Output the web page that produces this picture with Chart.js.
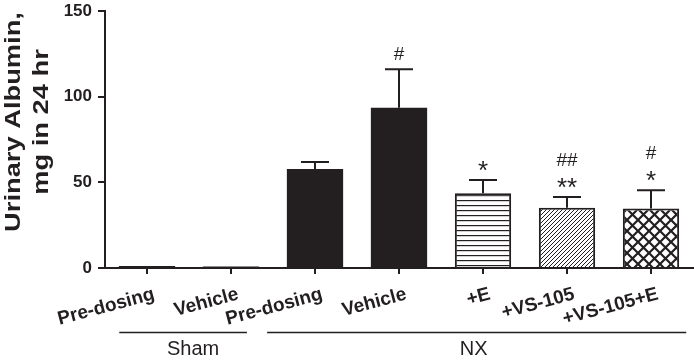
<!DOCTYPE html>
<html>
<head>
<meta charset="utf-8">
<script src="https://cdn.jsdelivr.net/npm/chart.js@4"></script>
<style>
  html, body { margin: 0; padding: 0; background: #fff; }
</style>
</head>
<body>
<canvas id="chart" width="694" height="362"></canvas>
<script>
// data
const categories = ['Pre-dosing', 'Vehicle', 'Pre-dosing', 'Vehicle', '+E', '+VS-105', '+VS-105+E'];
const albumin = [1.2, 0.9, 57.8, 93.6, 43.6, 35.2, 34.8];
const albuminSem = [0.3, 0.2, 4.0, 22.4, 7.8, 6.2, 10.6];
const marks = [[], [], [], ['#'], ['*'], ['##', '**'], ['#', '*']];
const groups = ['Sham', 'NX'];
const yTicks = [0, 50, 100, 150];
const yTitle = ['Urinary Albumin,', 'mg in 24 hr'];

const ink = '#231f20';
const font = 'Arial, "Liberation Sans", Helvetica, sans-serif';

// fill patterns for the treated bars
function makePattern(kind) {
    const c = document.createElement('canvas');
    const g = c.getContext('2d');
    if (kind === 'hstripe') {
        c.width = 8; c.height = 5;
        g.fillStyle = '#fff'; g.fillRect(0, 0, 8, 5);
        g.fillStyle = ink; g.fillRect(0, 0, 8, 1.2);
    } else if (kind === 'diag') {
        c.width = 4; c.height = 4;
        g.fillStyle = '#fff'; g.fillRect(0, 0, 4, 4);
        g.strokeStyle = ink; g.lineWidth = 1;
        g.beginPath();
        g.moveTo(-1, 5); g.lineTo(5, -1);
        g.moveTo(-1, 1); g.lineTo(1, -1);
        g.moveTo(3, 5); g.lineTo(5, 3);
        g.stroke();
    } else {
        c.width = 11; c.height = 11;
        g.fillStyle = '#fff'; g.fillRect(0, 0, 11, 11);
        g.strokeStyle = ink; g.lineWidth = 2.2;
        g.beginPath();
        g.moveTo(-1, -1); g.lineTo(12, 12);
        g.moveTo(-1, 12); g.lineTo(12, -1);
        g.stroke();
    }
    return g.createPattern(c, 'repeat');
}

const fills = [ink, ink, ink, ink, makePattern('hstripe'), makePattern('diag'), makePattern('cross')];

// up-only error bars plus significance marks
const errorBars = {
    id: 'errorBars',
    afterDatasetsDraw(chart) {
        const { ctx, scales: { x, y } } = chart;
        ctx.save();
        ctx.strokeStyle = ink;
        ctx.lineWidth = 2;
        ctx.fillStyle = ink;
        ctx.textAlign = 'center';
        ctx.textBaseline = 'middle';
        albumin.forEach((v, i) => {
            const cx = x.getPixelForValue(i);
            const y0 = y.getPixelForValue(v);
            const y1 = y.getPixelForValue(v + albuminSem[i]);
            if (albuminSem[i] > 1) {
                ctx.beginPath();
                ctx.moveTo(cx, y0); ctx.lineTo(cx, y1);
                ctx.moveTo(cx - 14, y1); ctx.lineTo(cx + 14, y1);
                ctx.stroke();
            }
            const m = marks[i];
            m.forEach((s, k) => {
                const ty = y1 - 14 - (m.length - 1 - k) * 22;
                const star = s.indexOf('*') >= 0;
                ctx.font = (star ? '26px ' : '19px ') + font;
                ctx.fillText(s, cx, ty + (star ? 6 : 0));
            });
        });
        ctx.restore();
    }
};

// y title (stretched like the original) and group brackets under the axis
const annotations = {
    id: 'annotations',
    afterDraw(chart) {
        const { ctx, scales: { x } } = chart;
        ctx.save();
        ctx.fillStyle = ink;
        ctx.textAlign = 'center';
        ctx.textBaseline = 'middle';
        ctx.font = 'bold 22px ' + font;
        yTitle.forEach((t, i) => {
            ctx.save();
            ctx.translate(14 + i * 28, 122);
            ctx.rotate(-Math.PI / 2);
            ctx.scale(1.24, 1);
            ctx.fillText(t, 0, 0);
            ctx.restore();
        });

        const step = x.getPixelForValue(1) - x.getPixelForValue(0);
        const spans = [[0 - 0.33, 1 + 0.19], [2 - 0.57, 6 + 0.42]];
        ctx.strokeStyle = ink;
        ctx.lineWidth = 1.6;
        ctx.font = '20px ' + font;
        spans.forEach((s, i) => {
            const a = x.getPixelForValue(0) + s[0] * step;
            const b = x.getPixelForValue(0) + s[1] * step;
            ctx.beginPath();
            ctx.moveTo(a, 332.5); ctx.lineTo(b, 332.5);
            ctx.stroke();
            ctx.fillText(groups[i], (a + b) / 2 + (i === 0 ? 10 : -3), 349);
        });
        ctx.restore();
    }
};

new Chart(document.getElementById('chart'), {
    type: 'bar',
    data: {
        labels: categories,
        datasets: [{
            data: albumin,
            backgroundColor: fills,
            borderColor: ink,
            borderWidth: [0, 0, 0, 0, 2, 2, 2],
            borderSkipped: 'bottom',
            categoryPercentage: 1,
            barPercentage: 0.67
        }]
    },
    options: {
        responsive: false,
        animation: false,
        devicePixelRatio: 1,
        layout: { padding: { top: 11, right: 1, left: 0, bottom: 0 } },
        plugins: { legend: { display: false }, tooltip: { enabled: false } },
        scales: {
            x: {
                grid: { display: true, drawOnChartArea: false, offset: false, color: ink, lineWidth: 2, tickLength: 6, tickWidth: 2 },
                border: { color: ink, width: 2 },
                ticks: {
                    color: ink, autoSkip: false, minRotation: 15, maxRotation: 15, padding: 9, labelOffset: 7,
                    font: { family: font, size: 19, weight: 'bold' }
                },
                afterFit(scale) { scale.height = 94; }
            },
            y: {
                min: 0, max: 150,
                afterBuildTicks(scale) { scale.ticks = yTicks.map(v => ({ value: v })); },
                grid: { display: true, drawOnChartArea: false, color: ink, lineWidth: 2, tickLength: 7, tickWidth: 2 },
                border: { color: ink, width: 2 },
                ticks: { color: ink, padding: 6, font: { family: font, size: 17, weight: 'bold' } },
                afterFit(scale) { scale.width = 105; scale.paddingTop = 0; }
            }
        }
    },
    plugins: [errorBars, annotations]
});
</script>
</body>
</html>
